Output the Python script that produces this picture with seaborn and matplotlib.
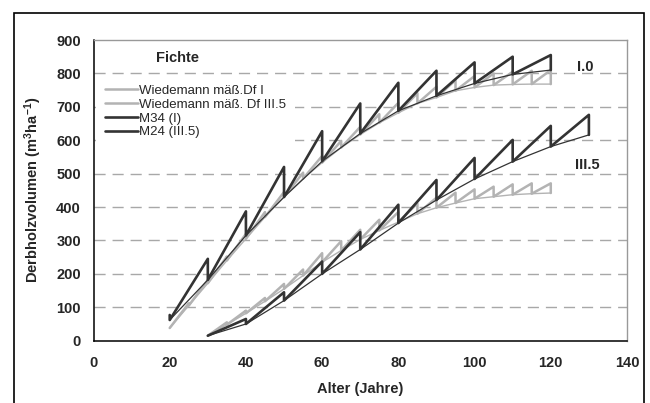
import numpy as np
import pandas as pd
import matplotlib
matplotlib.use("Agg")
import matplotlib.pyplot as plt
import seaborn as sns
from matplotlib.lines import Line2D
from matplotlib.patches import Rectangle

# ---------------- data ----------------
# Wiedemann yield tables, 5-year steps: value after thinning (base) and before thinning (peak)
wied_I_age = [20, 25, 30, 35, 40, 45, 50, 55, 60, 65, 70, 75, 80, 85, 90, 95, 100, 105, 110, 115, 120]
wied_I_base = [38, 105, 172, 240, 305, 370, 430, 485, 533, 578, 617, 652, 682, 710, 728, 748, 758, 765, 767, 768, 768]
wied_I_peak = [38, 112, 182, 252, 320, 385, 445, 503, 553, 598, 640, 678, 712, 741, 760, 780, 792, 800, 805, 808, 810]

wied_III_age = [30, 35, 40, 45, 50, 55, 60, 65, 70, 75, 80, 85, 90, 95, 100, 105, 110, 115, 120]
wied_III_base = [15, 48, 82, 118, 155, 195, 235, 270, 303, 330, 355, 380, 398, 412, 425, 431, 437, 440, 442]
wied_III_peak = [15, 55, 90, 128, 170, 213, 262, 298, 332, 362, 385, 411, 428, 443, 453, 461, 468, 471, 471]

# Model M34 (I) and M24 (III.5), 10-year steps
m34_age = [20, 30, 40, 50, 60, 70, 80, 90, 100, 110, 120]
m34_base = [62, 182, 315, 430, 537, 620, 688, 733, 770, 797, 810]
m34_peak = [77, 245, 387, 520, 627, 710, 772, 808, 833, 850, 855]

m24_age = [30, 40, 50, 60, 70, 80, 90, 100, 110, 120, 130]
m24_base = [15, 50, 120, 200, 273, 352, 421, 484, 536, 581, 616]
m24_peak = [15, 65, 145, 237, 325, 407, 481, 547, 601, 643, 676]

legend_labels = ["Wiedemann mäß.Df I", "Wiedemann mäß. Df III.5", "M34 (I)", "M24 (III.5)"]
x_ticks = [0, 20, 40, 60, 80, 100, 120, 140]
y_ticks = [0, 100, 200, 300, 400, 500, 600, 700, 800, 900]

# ---------------- helpers ----------------
def sawtooth(ages, base, peak):
    """Growth from base(t) to peak(t+1), then vertical drop to base(t+1)."""
    xs, ys = [ages[0], ages[0]], [peak[0], base[0]]
    for i in range(1, len(ages)):
        xs += [ages[i], ages[i]]
        ys += [peak[i], base[i]]
    return pd.DataFrame({"x": xs, "y": ys})

sns.set_theme(style="white")
plt.rcParams["font.family"] = ["Liberation Sans", "DejaVu Sans"]
plt.rcParams["mathtext.fontset"] = "custom"
plt.rcParams["mathtext.rm"] = "Liberation Sans:bold"
plt.rcParams["mathtext.default"] = "rm"

DARK = "#333333"
GREY = "#b3b3b3"

fig = plt.figure(figsize=(6.5, 4.03), dpi=100)
ax = fig.add_axes([93.5 / 650, 1 - 340.7 / 403, (627 - 93.5) / 650, (340.7 - 40) / 403])
ax.set_facecolor("white")

# grid lines
for yv in y_ticks[1:-1]:
    ax.axhline(yv, color="#a8a8a8", lw=1.0, ls=(0, (8, 5)), zorder=0)

# Wiedemann (grey)
for ages, base, peak in [(wied_I_age, wied_I_base, wied_I_peak),
                         (wied_III_age, wied_III_base, wied_III_peak)]:
    sns.lineplot(x=ages, y=base, ax=ax, color=GREY, lw=1.0, sort=False,
                 estimator=None, zorder=2)
    d = sawtooth(ages, base, peak)
    sns.lineplot(data=d, x="x", y="y", ax=ax, color=GREY, lw=1.8, sort=False,
                 estimator=None, zorder=2)

# Models (dark)
for ages, base, peak in [(m34_age, m34_base, m34_peak),
                         (m24_age, m24_base, m24_peak)]:
    sns.lineplot(x=ages, y=base, ax=ax, color=DARK, lw=0.9, sort=False,
                 estimator=None, zorder=3)
    d = sawtooth(ages, base, peak)
    sns.lineplot(data=d, x="x", y="y", ax=ax, color=DARK, lw=1.9, sort=False,
                 estimator=None, zorder=3)

ax.set_xlim(0, 140)
ax.set_ylim(0, 900)
ax.set_xticks(x_ticks)
ax.set_yticks(y_ticks)
ax.set_xticklabels([str(v) for v in x_ticks], fontsize=10.5, fontweight="bold")
ax.set_yticklabels([str(v) for v in y_ticks], fontsize=10.5, fontweight="bold")
ax.tick_params(axis="both", direction="out", length=4, width=1, color="black", pad=5)
ax.tick_params(axis="x", pad=7)

for s in ["left", "bottom"]:
    ax.spines[s].set_color("black")
    ax.spines[s].set_linewidth(1.1)
for s in ["top", "right"]:
    ax.spines[s].set_color("#999999")
    ax.spines[s].set_linewidth(1.0)

ax.set_xlabel("Alter (Jahre)", fontsize=10.5, fontweight="bold", labelpad=9)
ax.set_ylabel(r"Derbholzvolumen (m$^{3}$ha$^{-1}$)", fontsize=10.5,
              fontweight="bold", labelpad=9)

ax.text(22, 845, "Fichte", fontsize=10.5, fontweight="bold", ha="center", va="center")
ax.text(129, 819, "I.0", fontsize=10.5, fontweight="bold", ha="center", va="center")
ax.text(129.5, 526, "III.5", fontsize=10.5, fontweight="bold", ha="center", va="center")

handles = [Line2D([], [], color=GREY, lw=1.8),
           Line2D([], [], color=GREY, lw=1.8),
           Line2D([], [], color=DARK, lw=1.9),
           Line2D([], [], color=DARK, lw=1.9)]
leg = ax.legend(handles, legend_labels, loc="upper left", bbox_to_anchor=(0.004, 0.882),
                frameon=True, fancybox=False, framealpha=1.0, edgecolor="none",
                facecolor="white", fontsize=9.5, handlelength=2.5, handletextpad=0.1,
                labelspacing=0.12, borderpad=0.7, borderaxespad=0.0)
leg.set_zorder(1)

# outer figure border
fig.add_artist(Rectangle((14 / 650, -0.05), (644 - 14) / 650, 1.05 - 13 / 403,
                         transform=fig.transFigure, fill=False, edgecolor="black",
                         lw=1.2))

fig.savefig("out.png", dpi=100, facecolor="white")
